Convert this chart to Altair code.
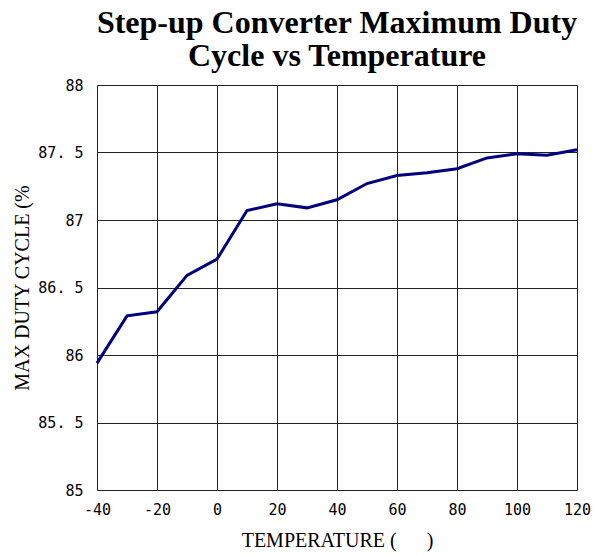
import altair as alt
import pandas as pd

temps = [-40, -30, -20, -10, 0, 10, 20, 30, 40, 50, 60, 70, 80, 90, 100, 110, 120]
duty = [85.94, 86.29, 86.32, 86.59, 86.71, 87.07, 87.12, 87.09, 87.15, 87.27, 87.33,
        87.35, 87.38, 87.46, 87.49, 87.48, 87.52]

x_ticks = [-40, -20, 0, 20, 40, 60, 80, 100, 120]
y_ticks = [85, 85.5, 86, 86.5, 87, 87.5, 88]

df = pd.DataFrame({"temp": temps, "duty": duty})

nb = "\u00a0"

chart = alt.Chart(df).mark_line(color="#000080", strokeWidth=3).encode(
    x=alt.X("temp:Q",
            scale=alt.Scale(domain=[-40, 120], nice=False, zero=False),
            axis=alt.Axis(values=x_ticks, title="TEMPERATURE (" + nb * 6 + ")", grid=True,
                          ticks=False, labelPadding=12, domain=False, labelFlush=False,
                          labelFont="DejaVu Sans Mono", labelFontSize=15,
                          labelColor="#000", titleFont="Liberation Serif",
                          titleFontSize=20, titleFontWeight="normal",
                          titleColor="#000", titlePadding=13,
                          gridColor="#222", gridOpacity=1, gridWidth=1,
                          labelExpr="replace(format(datum.value, '~g'), '\u2212', '-')")),
    y=alt.Y("duty:Q",
            scale=alt.Scale(domain=[85, 88], nice=False, zero=False),
            axis=alt.Axis(values=y_ticks, title="MAX DUTY CYCLE (%", grid=True,
                          ticks=False, labelPadding=14, domain=False, labelFlush=False,
                          labelFont="DejaVu Sans Mono", labelFontSize=15,
                          labelColor="#000", titleFont="Liberation Serif",
                          titleFontSize=20, titleFontWeight="normal",
                          titleColor="#000", titlePadding=5,
                          gridColor="#222", gridOpacity=1, gridWidth=1,
                          labelExpr="replace(format(datum.value, '~g'), '.', '. ')")),
).properties(
    width=480,
    height=405,
    title=alt.TitleParams(
        text=["Step-up Converter Maximum Duty", "Cycle vs Temperature"],
        font="Liberation Serif", fontSize=32, fontWeight="bold", color="#000",
        anchor="middle", lineHeight=33, offset=5,
    ),
).configure_view(
    stroke="#000", strokeWidth=1.5
).configure(
    background="white", padding={"left": 12, "top": 7, "right": 5, "bottom": 5}
)

chart.save("out.html", embed_options={"renderer": "svg", "actions": False})
